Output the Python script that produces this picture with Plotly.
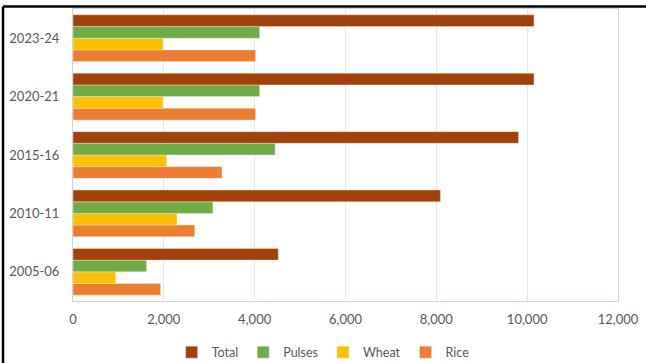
import plotly.graph_objects as go

categories = ["2005-06", "2010-11", "2015-16", "2020-21", "2023-24"]
total = [4520, 8090, 9810, 10150, 10150]
pulses = [1620, 3080, 4450, 4110, 4110]
wheat = [940, 2290, 2060, 1980, 1980]
rice = [1930, 2680, 3280, 4020, 4020]
x_ticks = [0, 2000, 4000, 6000, 8000, 10000, 12000]
x_tick_labels = ["0", "2,000", "4,000", "6,000", "8,000", "10,000", "12,000"]

FONT = "Lato, Open Sans, sans-serif"

fig = go.Figure()
series = [
    ("Rice", rice, "#ED7D31"),
    ("Wheat", wheat, "#FFC000"),
    ("Pulses", pulses, "#6EAD46"),
    ("Total", total, "#A2420A"),
]
for name, vals, col in series:
    fig.add_trace(go.Bar(
        y=categories, x=vals, name=name, orientation="h",
        marker=dict(color=col, line=dict(color="rgba(255,230,210,0.6)", width=0.7)),
    ))

fig.update_layout(
    width=646, height=363,
    margin=dict(l=73, r=28, t=9, b=62, autoexpand=False),
    barmode="group", bargap=0.2, bargroupgap=0,
    plot_bgcolor="white", paper_bgcolor="white",
    font=dict(family=FONT, size=13, color="#595959"),
    showlegend=True,
    legend=dict(orientation="h", traceorder="reversed", x=0.459, xanchor="center",
                y=-0.125, yanchor="top", font=dict(size=12.5, color="#595959"),
                itemwidth=30, tracegroupgap=0),
    xaxis=dict(range=[0, 12000], tickvals=x_ticks, ticktext=x_tick_labels,
               showgrid=True, gridcolor="#E3E7EF", gridwidth=1, zeroline=False,
               showline=True, linecolor="#C9D5EA", mirror=True, ticks="",
               ticklabelstandoff=6, fixedrange=True),
    yaxis=dict(type="category", categoryorder="array", categoryarray=categories,
               showgrid=False, showline=True, linecolor="#C9D5EA", mirror=True,
               ticks="", ticklabelstandoff=10, fixedrange=True),
    shapes=[
        dict(type="line", xref="paper", yref="paper", x0=-0.1284, x1=1.06,
             y0=1.0086, y1=1.0086, line=dict(color="black", width=2.5)),
        dict(type="line", xref="paper", yref="paper", x0=-0.1284, x1=-0.1284,
             y0=1.0086, y1=-0.22, line=dict(color="black", width=2.5)),
    ],
)

fig.write_html("out.html")
